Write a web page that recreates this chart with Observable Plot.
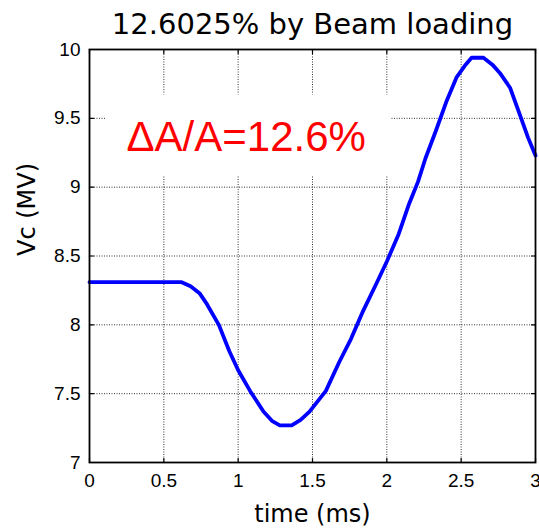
<!DOCTYPE html>
<html><head><meta charset="utf-8">
<script src="https://cdn.jsdelivr.net/npm/d3@7"></script>
<script src="https://cdn.jsdelivr.net/npm/@observablehq/plot@0.6"></script>
<style>body{margin:0;background:#fff}</style>
</head><body><div id="chart"></div>
<script>
const time = [0, 0.62, 0.68, 0.74, 0.79, 0.87, 0.94, 1.0, 1.08, 1.17, 1.23, 1.28, 1.36, 1.42, 1.48, 1.59, 1.68, 1.76, 1.84, 1.93, 2.0, 2.08, 2.15, 2.21, 2.26, 2.33, 2.40, 2.47, 2.53, 2.57, 2.65, 2.71, 2.76, 2.83, 2.90, 2.95, 3.0];
const vc = [8.31, 8.31, 8.28, 8.23, 8.15, 8.0, 7.81, 7.67, 7.52, 7.37, 7.30, 7.27, 7.27, 7.31, 7.37, 7.52, 7.73, 7.90, 8.10, 8.30, 8.46, 8.66, 8.88, 9.04, 9.21, 9.41, 9.62, 9.80, 9.89, 9.94, 9.94, 9.89, 9.83, 9.72, 9.51, 9.36, 9.23];
const xTicks = [0, 0.5, 1, 1.5, 2, 2.5, 3];
const yTicks = [7, 7.5, 8, 8.5, 9, 9.5, 10];
const titleText = "12.6025% by Beam loading";
const xLabel = "time (ms)";
const yLabel = "Vc (MV)";
const annotationText = "ΔA/A=12.6%";
const annotationBox = [{x1: 0.11, x2: 2.03, y1: 9.08, y2: 9.67}];
const annotationPos = [{x: 1.054, y: 9.36}];

const data = time.map((t, i) => ({t, v: vc[i]}));
const tickShape = {draw(ctx, l) { ctx.moveTo(0, 0); ctx.lineTo(0, -l); }};
const gridStyle = {stroke: "#000", strokeOpacity: 0.8, strokeDasharray: "1,1.5", strokeWidth: 1};
const tickStyle = {length: 4, anchor: "start", shape: tickShape, stroke: "#000", strokeWidth: 1.2};

const chart = Plot.plot({
  width: 539, height: 531,
  marginTop: 49, marginBottom: 69, marginLeft: 89, marginRight: 4,
  style: {fontFamily: "'Liberation Sans', Arial, sans-serif", background: "#fff", color: "#000", overflow: "visible"},
  x: {domain: [0, 3]},
  y: {domain: [7, 10]},
  marks: [
    Plot.gridX(xTicks, gridStyle),
    Plot.gridY(yTicks, gridStyle),
    Plot.rect(annotationBox, {x1: "x1", x2: "x2", y1: "y1", y2: "y2", fill: "white"}),
    Plot.line(data, {x: "t", y: "v", stroke: "#0000ff", strokeWidth: 3.8}),
    Plot.text(annotationPos, {x: "x", y: "y", text: () => annotationText, fill: "#ff0000", fontSize: 42, fontFamily: "'Liberation Sans', Arial, sans-serif"}),
    Plot.frame({stroke: "#000", strokeWidth: 1.8}),
    Plot.vector(xTicks, {x: d => d, frameAnchor: "bottom", rotate: 0, ...tickStyle}),
    Plot.vector(xTicks, {x: d => d, frameAnchor: "top", rotate: 180, ...tickStyle}),
    Plot.vector(yTicks, {y: d => d, frameAnchor: "left", rotate: 90, ...tickStyle}),
    Plot.vector(yTicks, {y: d => d, frameAnchor: "right", rotate: -90, ...tickStyle}),
    Plot.axisX(xTicks, {tickSize: 0, tickPadding: 11, fontSize: 19, label: null, tickFormat: d => String(d)}),
    Plot.axisY(yTicks, {tickSize: 0, tickPadding: 9, fontSize: 19, label: null, tickFormat: d => String(d)}),
    Plot.text([titleText], {frameAnchor: "top", dy: -36, text: d => d, fontSize: 29, fontFamily: "'DejaVu Sans', sans-serif", fill: "#000"}),
    Plot.text([xLabel], {frameAnchor: "bottom", dy: 59, text: d => d, fontSize: 24, fontFamily: "'DejaVu Sans', sans-serif", fill: "#000"}),
    Plot.text([yLabel], {frameAnchor: "left", dx: -62, rotate: -90, text: d => d, fontSize: 24, fontFamily: "'DejaVu Sans', sans-serif", fill: "#000"})
  ]
});
document.getElementById("chart").appendChild(chart);
</script>
</body></html>
